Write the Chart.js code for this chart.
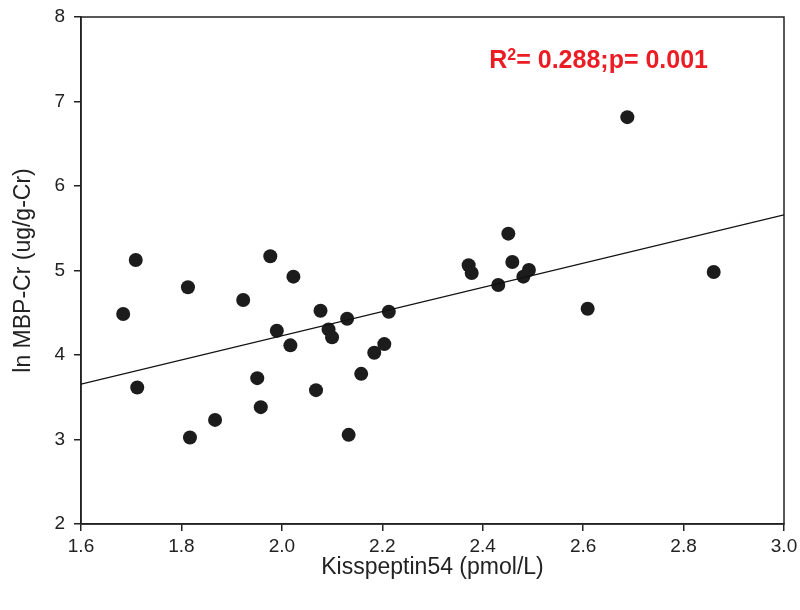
<!DOCTYPE html>
<html>
<head>
<meta charset="utf-8">
<script src="https://cdn.jsdelivr.net/npm/chart.js@4.4.1/dist/chart.umd.min.js"></script>
<style>
  body { margin: 0; background: #fff; }
  canvas { display: block; }
</style>
</head>
<body>
<canvas id="chart" width="800" height="610"></canvas>
<script>
// === Data ===
const kisspeptin = [1.684, 1.709, 1.712, 1.813, 1.817, 1.867, 1.923, 1.951, 1.958, 1.977,
  1.990, 2.017, 2.023, 2.068, 2.077, 2.093, 2.100, 2.130, 2.133, 2.158,
  2.184, 2.204, 2.213, 2.372, 2.378, 2.431, 2.451, 2.459, 2.481, 2.492,
  2.609, 2.688, 2.860];
const lnMbpCr = [4.485, 5.124, 3.616, 4.801, 3.024, 3.232, 4.651, 3.726, 3.383, 5.168,
  4.287, 4.114, 4.927, 3.584, 4.524, 4.303, 4.209, 4.429, 3.055, 3.777,
  4.026, 4.129, 4.512, 5.062, 4.970, 4.828, 5.436, 5.101, 4.927, 5.006,
  4.547, 6.815, 4.982];

// regression line end points
const fitX = [1.6, 3.0];
const fitY = [3.655, 5.658];

const xTickValues = [1.6, 1.8, 2.0, 2.2, 2.4, 2.6, 2.8, 3.0];
const yTickValues = [2, 3, 4, 5, 6, 7, 8];

const annotationText = { main: "R", sup: "2", rest: "= 0.288;p= 0.001" };

const axisColor = "#222";
const fontFamily = "'Liberation Sans', Arial, Helvetica, sans-serif";

// === Frame + annotation plugin ===
const framePlugin = {
  id: "frame",
  beforeDatasetsDraw(chart) {
    const { ctx, chartArea } = chart;
    ctx.save();
    ctx.strokeStyle = axisColor;
    ctx.lineWidth = 1.5;
    ctx.strokeRect(chartArea.left, chartArea.top, chartArea.right - chartArea.left, chartArea.bottom - chartArea.top);
    ctx.restore();
  },
  afterDraw(chart) {
    const { ctx, scales } = chart;
    const x0 = scales.x.getPixelForValue(2.413);
    const y0 = scales.y.getPixelForValue(7.396);
    ctx.save();
    ctx.fillStyle = "#ec1c24";
    ctx.textBaseline = "alphabetic";
    ctx.textAlign = "left";
    ctx.font = "bold 25px " + fontFamily;
    ctx.fillText(annotationText.main, x0, y0);
    let x = x0 + ctx.measureText(annotationText.main).width;
    ctx.font = "bold 16px " + fontFamily;
    ctx.fillText(annotationText.sup, x, y0 - 8);
    x += ctx.measureText(annotationText.sup).width;
    ctx.font = "bold 25px " + fontFamily;
    ctx.fillText(annotationText.rest, x, y0);
    ctx.restore();
  }
};

const points = kisspeptin.map((v, i) => ({ x: v, y: lnMbpCr[i] }));
const fitLine = fitX.map((v, i) => ({ x: v, y: fitY[i] }));

new Chart(document.getElementById("chart").getContext("2d"), {
  type: "scatter",
  data: {
    datasets: [
      {
        type: "line",
        data: fitLine,
        borderColor: "#111",
        borderWidth: 1.3,
        pointRadius: 0,
        fill: false,
      },
      {
        data: points,
        backgroundColor: "#1c1c1c",
        borderWidth: 0,
        pointRadius: 7,
      },
    ]
  },
  options: {
    responsive: false,
    animation: false,
    layout: { padding: { left: 0, top: 17, right: 16, bottom: 0 } },
    plugins: { legend: { display: false }, tooltip: { enabled: false } },
    scales: {
      x: {
        type: "linear",
        min: 1.6,
        max: 3.0,
        afterBuildTicks: (s) => { s.ticks = xTickValues.map(v => ({ value: v })); },
        afterFit: (s) => { s.height = 86; s.paddingLeft = 0; s.paddingRight = 0; },
        ticks: {
          callback: (v) => Number(v).toFixed(1),
          color: axisColor,
          font: { family: fontFamily, size: 19 },
          padding: 4,
          maxRotation: 0,
        },
        grid: { drawOnChartArea: false, drawTicks: true, tickLength: 7, color: axisColor, lineWidth: 1.5 },
        border: { display: true, color: axisColor, width: 1.5 },
        title: {
          display: true,
          text: "Kisspeptin54 (pmol/L)",
          color: axisColor,
          font: { family: fontFamily, size: 23 },
          padding: { top: 0, bottom: 29 },
        },
      },
      y: {
        type: "linear",
        min: 2,
        max: 8,
        afterBuildTicks: (s) => { s.ticks = yTickValues.map(v => ({ value: v })); },
        afterFit: (s) => { s.width = 81; s.paddingTop = 0; s.paddingBottom = 0; },
        ticks: {
          color: axisColor,
          font: { family: fontFamily, size: 19 },
          padding: 9,
        },
        grid: { drawOnChartArea: false, drawTicks: true, tickLength: 7, color: axisColor, lineWidth: 1.5 },
        border: { display: true, color: axisColor, width: 1.5 },
        title: {
          display: true,
          text: "ln MBP-Cr (ug/g-Cr)",
          color: axisColor,
          font: { family: fontFamily, size: 23 },
          padding: { top: 10, bottom: 0 },
        },
      },
    },
  },
  plugins: [framePlugin],
});
</script>
</body>
</html>
